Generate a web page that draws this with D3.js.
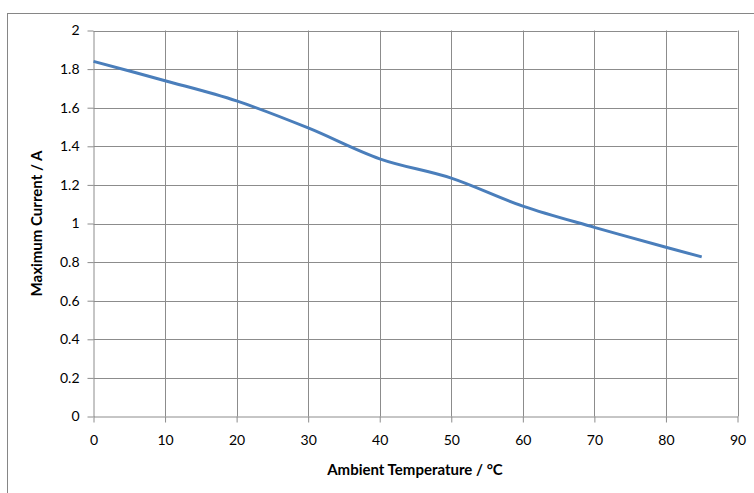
<!DOCTYPE html>
<html><head><meta charset="utf-8">
<script src="https://cdn.jsdelivr.net/npm/d3@7"></script>
<style>body{margin:0;background:#fff}svg{display:block}text{font-family:Lato,"Open Sans",sans-serif;fill:#000}</style>
</head><body><svg id="c" width="754" height="493"></svg>
<script>
const temps = [0,10,20,30,40,50,60,70,80,85];
const currents = [1.84,1.74,1.635,1.495,1.335,1.235,1.09,0.98,0.877,0.827];
const xTicks = [0,10,20,30,40,50,60,70,80,90];
const yTicks = [0,0.2,0.4,0.6,0.8,1,1.2,1.4,1.6,1.8,2];
const xTitle = "Ambient Temperature / °C";
const yTitle = "Maximum Current / A";

const svg = d3.select("#c");
svg.append("rect").attr("x",7.5).attr("y",13.5).attr("width",800).attr("height",600)
  .attr("fill","none").attr("stroke","#868686").attr("stroke-width",1);

const L=93.5,R=737.5,T=30.5,B=416.5;
const x = d3.scaleLinear().domain([0,90]).range([L,R]);
const y = d3.scaleLinear().domain([0,2]).range([B,T]);
const grid="#8c8c8c";

const g = svg.append("g");
g.selectAll(".hg").data(yTicks.slice(1)).enter().append("line")
  .attr("x1",L).attr("x2",R).attr("y1",d=>Math.round(y(d))+0.5).attr("y2",d=>Math.round(y(d))+0.5)
  .attr("stroke",grid).attr("stroke-width",1);
g.selectAll(".vg").data(xTicks.slice(1)).enter().append("line")
  .attr("y1",T).attr("y2",B).attr("x1",d=>Math.round(x(d))+0.5).attr("x2",d=>Math.round(x(d))+0.5)
  .attr("stroke",grid).attr("stroke-width",1);

const xa = svg.append("g").attr("transform",`translate(0,${B})`)
  .call(d3.axisBottom(x).tickValues(xTicks).tickSize(6).tickSizeOuter(0).tickPadding(13).tickFormat(d3.format("")));
const ya = svg.append("g").attr("transform",`translate(${L},0)`)
  .call(d3.axisLeft(y).tickValues(yTicks).tickSize(6).tickSizeOuter(0).tickPadding(8).tickFormat(d=>String(+d.toFixed(1))));
[xa,ya].forEach(a=>{
  a.select(".domain").attr("stroke",grid);
  a.selectAll(".tick line").attr("stroke",grid);
  a.selectAll("text").attr("font-size",14).attr("fill","#000").style("font-family","Lato,'Open Sans',sans-serif");
});

const line = d3.line().x((d,i)=>x(temps[i])).y(d=>y(d)).curve(d3.curveCardinal.tension(0));
svg.append("path").datum(currents).attr("d",line).attr("fill","none")
  .attr("stroke","#4A7EBB").attr("stroke-width",3).attr("stroke-linecap","butt");

svg.append("text").attr("x",415).attr("y",475).attr("text-anchor","middle")
  .attr("font-size",15).attr("font-weight","bold").text(xTitle);
svg.append("text").attr("transform",`translate(42,${(T+B)/2}) rotate(-90)`).attr("text-anchor","middle")
  .attr("font-size",15).attr("font-weight","bold").text(yTitle);
</script></body></html>
